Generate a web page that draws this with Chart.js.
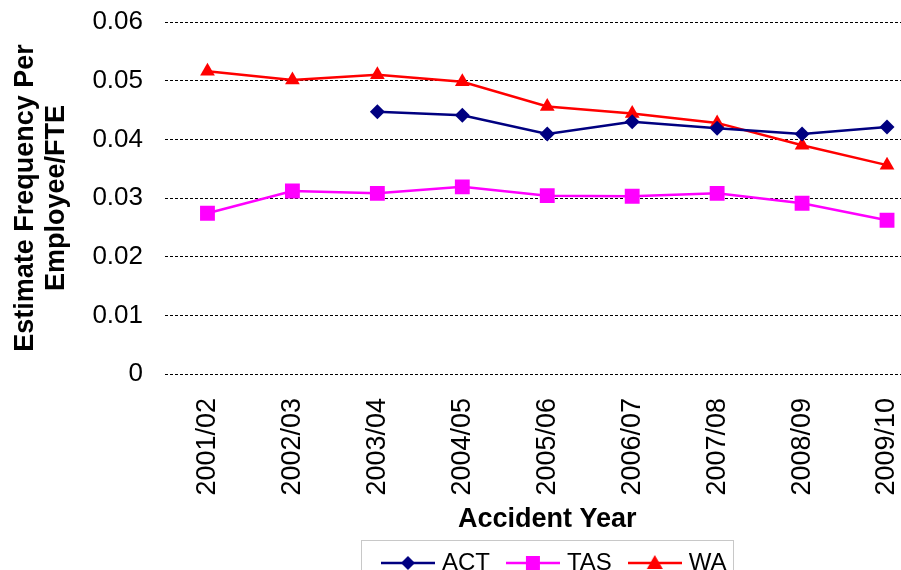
<!DOCTYPE html>
<html>
<head>
<meta charset="utf-8">
<script src="https://cdn.jsdelivr.net/npm/chart.js@4.4.1/dist/chart.umd.min.js"></script>
<style>
  html, body { margin: 0; padding: 0; background: #fff; overflow: hidden; }
  #wrap { width: 940px; height: 600px; }
</style>
</head>
<body>
<div id="wrap"><canvas id="canvas" width="940" height="600"></canvas></div>
<script>
var years = ['2001/02', '2002/03', '2003/04', '2004/05', '2005/06', '2006/07', '2007/08', '2008/09', '2009/10'];
var actValues = [null, null, 0.0447, 0.0441, 0.0409, 0.0430, 0.0419, 0.0409, 0.0421];
var tasValues = [0.0274, 0.0312, 0.0308, 0.0319, 0.0304, 0.0303, 0.0308, 0.0291, 0.0262];
var waValues = [0.0516, 0.0501, 0.0510, 0.0498, 0.0456, 0.0444, 0.0428, 0.0390, 0.0356];
var yTicks = [0, 0.01, 0.02, 0.03, 0.04, 0.05, 0.06];

var FONT = "'Liberation Sans', Arial, sans-serif";

// little line+marker pictures for the legend
function legendIcon(color, shape) {
    var c = document.createElement('canvas');
    c.width = 54;
    c.height = 24;
    var g = c.getContext('2d');
    g.strokeStyle = color;
    g.fillStyle = color;
    g.lineWidth = 2.5;
    g.beginPath();
    g.moveTo(0, 12);
    g.lineTo(54, 12);
    g.stroke();
    g.beginPath();
    if (shape === 'diamond') {
        g.moveTo(27, 5); g.lineTo(34, 12); g.lineTo(27, 19); g.lineTo(20, 12);
    } else if (shape === 'square') {
        g.rect(20, 5, 14, 14);
    } else {
        g.moveTo(27, 4); g.lineTo(35, 18); g.lineTo(19, 18);
    }
    g.closePath();
    g.fill();
    return c;
}

var icons = [
    legendIcon('#000080', 'diamond'),
    legendIcon('#ff00ff', 'square'),
    legendIcon('#ff0000', 'triangle')
];

var legendPlacer = {
    id: 'legendPlacer',
    afterLayout: function(chart) {
        var lg = chart.legend;
        lg.left = chart.chartArea.left + 9;
        lg.right = chart.chartArea.right + 9;
        lg.width = lg.right - lg.left;
        lg.top = 530;
        lg.bottom = lg.top + 53;
    },
    afterDraw: function(chart) {
        var ctx = chart.ctx;
        var cx = (chart.chartArea.left + chart.chartArea.right) / 2;
        ctx.save();
        ctx.strokeStyle = '#c8c8c8';
        ctx.lineWidth = 1;
        ctx.strokeRect(Math.round(cx - 186) + 0.5, 540.5, 372, 50);
        ctx.restore();
    }
};

var config = {
    type: 'line',
    data: {
        labels: years,
        datasets: [{
            label: 'ACT',
            data: actValues,
            borderColor: '#000080',
            backgroundColor: '#000080',
            borderWidth: 2.5,
            pointStyle: 'rectRot',
            pointRadius: 7.5,
            pointHoverRadius: 7.5,
            pointBorderWidth: 0,
            fill: false
        }, {
            label: 'TAS',
            data: tasValues,
            borderColor: '#ff00ff',
            backgroundColor: '#ff00ff',
            borderWidth: 2.5,
            pointStyle: 'rect',
            pointRadius: 10.5,
            pointHoverRadius: 10.5,
            pointBorderWidth: 0,
            fill: false
        }, {
            label: 'WA',
            data: waValues,
            borderColor: '#ff0000',
            backgroundColor: '#ff0000',
            borderWidth: 2.5,
            pointStyle: 'triangle',
            pointRadius: 8.5,
            pointHoverRadius: 8.5,
            pointBorderWidth: 0,
            fill: false
        }]
    },
    options: {
        responsive: false,
        animation: false,
        devicePixelRatio: 1,
        layout: {
            padding: { top: 22, left: 0, right: 6, bottom: 8 }
        },
        plugins: {
            tooltip: { enabled: false },
            legend: {
                position: 'bottom',
                labels: {
                    usePointStyle: true,
                    pointStyleWidth: 44,
                    padding: 21,
                    color: '#000',
                    font: { family: FONT, size: 24 },
                    generateLabels: function(chart) {
                        return chart.data.datasets.map(function(ds, i) {
                            return {
                                text: ds.label,
                                pointStyle: icons[i],
                                fillStyle: ds.borderColor,
                                strokeStyle: ds.borderColor,
                                lineWidth: 0,
                                fontColor: '#000',
                                hidden: false,
                                datasetIndex: i
                            };
                        });
                    }
                }
            }
        },
        scales: {
            x: {
                offset: true,
                grid: { display: false },
                border: { display: false },
                ticks: {
                    minRotation: 90,
                    maxRotation: 90,
                    padding: 16,
                    color: '#000',
                    font: { family: FONT, size: 27 }
                },
                title: {
                    display: true,
                    text: 'Accident Year',
                    color: '#000',
                    padding: { top: 0, bottom: 1 },
                    font: { family: FONT, size: 27, weight: 'bold', lineHeight: 1.2 }
                },
                afterFit: function(scale) {
                    scale.height = 163;
                    scale.paddingLeft = 0;
                    scale.paddingRight = 0;
                }
            },
            y: {
                min: 0,
                max: 0.06,
                afterBuildTicks: function(scale) {
                    scale.ticks = yTicks.map(function(v) { return { value: v }; });
                },
                grid: {
                    color: '#000',
                    lineWidth: 1,
                    drawTicks: false
                },
                border: { display: false, dash: [3, 2] },
                ticks: {
                    padding: 22,
                    color: '#000',
                    font: { family: FONT, size: 26 },
                    callback: function(v) { return v === 0 ? '0' : v.toFixed(2); }
                },
                title: {
                    display: true,
                    text: ['Estimate Frequency Per', 'Employee/FTE'],
                    color: '#000',
                    padding: { top: 10, bottom: 0 },
                    font: { family: FONT, size: 27, weight: 'bold', lineHeight: 1.15 }
                },
                afterFit: function(scale) {
                    scale.width = 165;
                    scale.paddingTop = 12;
                    scale.paddingBottom = 12;
                }
            }
        }
    },
    plugins: [legendPlacer]
};

var ctx = document.getElementById('canvas').getContext('2d');
window.myLine = new Chart(ctx, config);
</script>
</body>
</html>
